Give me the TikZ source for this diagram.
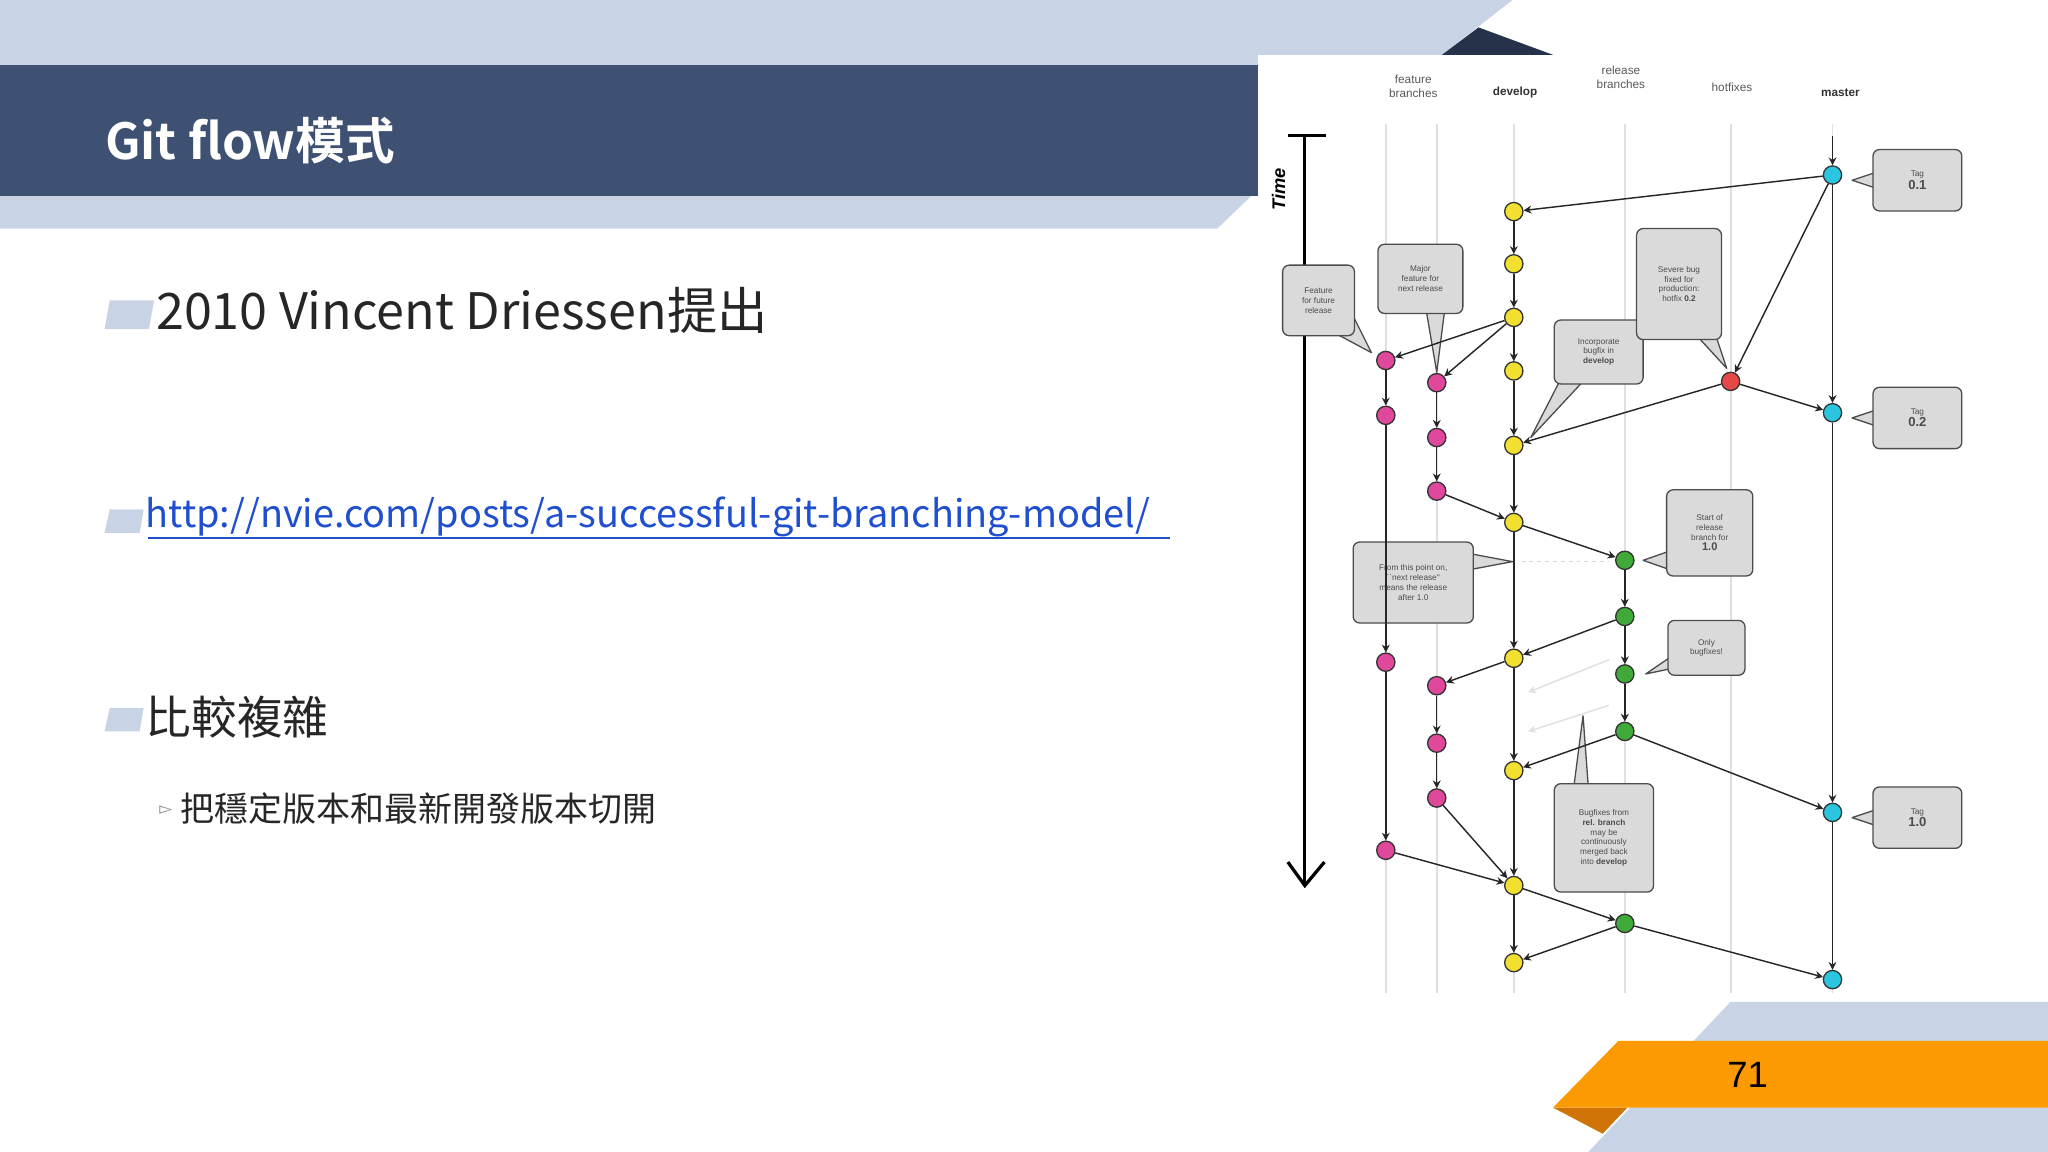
\documentclass[tikz,border=0pt]{standalone}
\usepackage{fontspec}
\setmainfont{Noto Sans CJK TC}
\newfontfamily\dfont{Liberation Sans}
\newfontfamily\symf{DejaVu Sans}
\newfontfamily\cjkb[BoldFont={Noto Sans CJK TC Bold}]{Noto Sans CJK TC}
\usetikzlibrary{arrows.meta}
\definecolor{lightband}{HTML}{C8D4E6}
\definecolor{darkband}{HTML}{3F5173}
\definecolor{navytri}{HTML}{26314A}
\definecolor{orng}{HTML}{FB9A03}
\definecolor{orngd}{HTML}{D07306}
\definecolor{linkblue}{HTML}{1F4FCF}
\definecolor{cyel}{HTML}{F2E030}
\definecolor{cpink}{HTML}{E0489B}
\definecolor{cgreen}{HTML}{3FAA38}
\definecolor{ccyan}{HTML}{2CC5E0}
\definecolor{cred}{HTML}{E64848}
\definecolor{boxg}{HTML}{DADADA}
\tikzset{
 commit/.style={circle,draw=black!80,line width=1pt,minimum size=14pt,inner sep=0pt},
 yc/.style={commit,fill=cyel}, pc/.style={commit,fill=cpink}, gc/.style={commit,fill=cgreen},
 cc/.style={commit,fill=ccyan}, rc/.style={commit,fill=cred},
 ar/.style={-{Stealth[length=6pt,width=6pt]},line width=1.1pt,black!85},
 colline/.style={black!12,line width=1.4pt},
 cbox/.style={draw=black!70,fill=boxg,rounded corners=5pt,line width=1pt,align=center,font=\dfont\fontsize{6.3}{7.6}\selectfont,text=black!70,inner sep=1pt},
 ptr/.style={draw=black!70,fill=boxg,line width=1pt,line join=round},
 hdr/.style={font=\dfont\fontsize{9}{11}\selectfont,text=black!65,align=center},
}
\begin{document}
\begin{tikzpicture}[x=1pt,y=-1pt]
\useasboundingbox (0,0) rectangle (1568,882);
% header
\fill[lightband] (0,0) -- (1158,0) -- (1030,100) -- (0,100) -- cycle;
\fill[white] (963,42) rectangle (1568,770);
\fill[navytri] (1104,42) -- (1132,21) -- (1189,42) -- cycle;
\fill[lightband] (0,150) -- (958,150) -- (932,175) -- (0,175) -- cycle;
\fill[darkband] (0,50) rectangle (963,150);
\node[anchor=west,text=white,font=\cjkb\bfseries\fontsize{38}{40}\selectfont] (title) at (77,108) {Git flow模式};
% footer
\fill[lightband] (1325,767) -- (1568,767) -- (1568,882) -- (1216,882) -- cycle;
\fill[orngd] (1189,848) -- (1246,848) -- (1227,868) -- cycle;
\fill[orng] (1239,797) -- (1568,797) -- (1568,848) -- (1189,848) -- cycle;
\node[font=\dfont\fontsize{28}{30}\selectfont] (pg) at (1338,823) {71};
% bullets
\tikzset{bul/.style={fill=lightband}}
\fill[bul] (84,230) -- (118,230) -- (114,252) -- (80,252) -- cycle;
\node[anchor=west,font=\fontsize{38.5}{42}\selectfont,text=black!85] (b1) at (116,238) {2010 Vincent Driessen提出};
\fill[bul] (84,390) -- (110,390) -- (107,408) -- (80,408) -- cycle;
\node[anchor=west,font=\fontsize{29}{32}\selectfont,text=linkblue] (b2) at (108,396) {http://nvie.com/posts/a-successful-git-branching-model/};
\draw[linkblue,line width=1pt] (113,412) -- (896,412);
\fill[bul] (84,542) -- (110,542) -- (107,560) -- (80,560) -- cycle;
\node[anchor=west,font=\fontsize{35}{38}\selectfont,text=black!85] (b3) at (108,549) {比較複雜};
\node[font=\symf\fontsize{13}{15}\selectfont,text=black!45] (sb) at (127,620) {▻};
\node[anchor=west,font=\fontsize{26}{30}\selectfont,text=black!85] (b4) at (135,619) {把穩定版本和最新開發版本切開};
% diagram column lines
\foreach \x in {1061,1100,1159,1244,1325,1403} \draw[colline] (\x,95) -- (\x,760);
\node[hdr] (h1) at (1082,66) {feature\\branches};
\node[hdr,font=\dfont\bfseries\fontsize{9}{11}\selectfont,text=black!80] (h2) at (1160,71) {develop};
\node[hdr] (h3) at (1241,59) {release\\branches};
\node[hdr] (h4) at (1326,67) {hotfixes};
\node[hdr,font=\dfont\bfseries\fontsize{9}{11}\selectfont,text=black!80] (h5) at (1409,71) {master};
% time axis
\coordinate (t0) at (999,104); \coordinate (t1) at (999,678);
\draw[line width=2.5pt] (986,104) -- (1015,104);
\draw[line width=2.5pt] (t0) -- (t1);
\draw[line width=2.5pt,line join=miter] (986,660) -- (t1) -- (1014,660);
\node[rotate=90,font=\dfont\bfseries\itshape\fontsize{14}{16}\selectfont] (time) at (979,145) {Time};
% callouts
\newcommand{\callout}[6]{% name, x1,y1,x2,y2, text
 \node[cbox,minimum width=#4-#2,minimum height=#5-#3] (#1) at ({(#2+#4)/2},{(#3+#5)/2}) {#6};}
\draw[ptr] (1022,255) -- (1050,270) -- (1035,240);
\callout{k1}{982}{203}{1037}{257}{Feature\\for future\\release}
\draw[ptr] (1092,238) -- (1100,285) -- (1106,238);
\callout{k2}{1055}{187}{1120}{240}{Major\\feature for\\next release}
\draw[ptr] (1194,292) -- (1172,335) -- (1212,292);
\callout{k3}{1190}{245}{1258}{294}{Incorporate\\bugfix in\\\textbf{develop}}
\draw[ptr] (1300,258) -- (1322,282) -- (1314,258);
\callout{k4}{1253}{175}{1318}{260}{Severe bug\\fixed for\\production:\\hotfix \textbf{0.2}}
\foreach \n/\y/\t in {t1/138/0.1,t2/320/0.2,t3/626/1.0}{
 \draw[ptr] (1436,{\y-6}) -- (1418,\y) -- (1436,{\y+6});
 \node[cbox,minimum width=68,minimum height=47] (\n) at (1468,\y) {Tag\\{\fontsize{10}{11}\selectfont\bfseries \t}};}
\draw[ptr] (1278,422) -- (1258,429) -- (1278,436);
\callout{k6}{1276}{375}{1342}{441}{Start of\\release\\branch for\\{\fontsize{8.5}{10}\selectfont\bfseries 1.0}}
\draw[black!15,dashed,line width=1.2pt] (1165,430) -- (1232,430);
\draw[ptr] (1126,424) -- (1158,430) -- (1126,436);
\callout{k7}{1036}{415}{1128}{477}{From this point on,\\``next release''\\means the release\\after 1.0}
\draw[ptr] (1279,503) -- (1260,516) -- (1279,512);
\callout{k8}{1277}{475}{1336}{517}{Only\\bugfixes!}
\draw[ptr] (1205,602) -- (1212,548) -- (1216,602);
\callout{k9}{1190}{600}{1266}{683}{Bugfixes from\\\textbf{rel. branch}\\may be\\continuously\\merged back\\into \textbf{develop}}
% commits
\foreach \i/\y in {1/162,2/202,3/243,4/284,5/341,6/400,7/504,8/590,9/678,10/737} \node[yc] (d\i) at (1159,\y) {};
\foreach \i/\y in {1/134,2/316,3/622,4/750} \node[cc] (m\i) at (1403,\y) {};
\node[rc] (hf) at (1325,292) {};
\foreach \i/\y in {1/276,2/318,3/507,4/651} \node[pc] (f\i) at (1061,\y) {};
\foreach \i/\y in {1/293,2/335,3/376,4/525,5/569,6/611} \node[pc] (g\i) at (1100,\y) {};
\foreach \i/\y in {1/429,2/472,3/516,4/560,5/707} \node[gc] (r\i) at (1244,\y) {};
% edges
\coordinate (mtop) at (1403,104);
\draw[ar] (mtop) -- (m1);
\foreach \a/\b in {m1/m2,m2/m3,m3/m4,d1/d2,d2/d3,d3/d4,d4/d5,d5/d6,d6/d7,d7/d8,d8/d9,d9/d10,f1/f2,f2/f3,f3/f4,g1/g2,g2/g3,g4/g5,g5/g6,r1/r2,r2/r3,r3/r4}
 \draw[ar] (\a) -- (\b);
\foreach \a/\b in {m1/d1,m1/hf,hf/m2,hf/d5,d3/f1,d3/g1,g3/d6,d7/g4,f4/d9,g6/d9,d6/r1,r2/d7,r4/d8,r4/m3,d9/r5,r5/d10,r5/m4}
 \draw[ar] (\a) -- (\b);
\coordinate (fa1) at (1232,505); \coordinate (fa2) at (1170,530);
\coordinate (fb1) at (1232,540); \coordinate (fb2) at (1170,560);
\draw[ar,black!12] (fa1) -- (fa2);
\draw[ar,black!12] (fb1) -- (fb2);
\end{tikzpicture}
\end{document}
